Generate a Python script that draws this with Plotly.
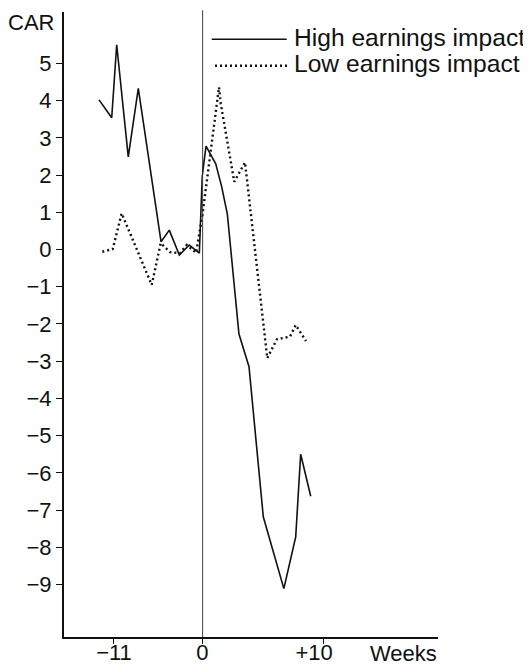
import plotly.graph_objects as go

# ---- data (weeks relative to event, CAR in %) ----
weeks_pre_high = [-12.86, -11.28, -10.66, -9.22, -7.97, -5.14, -4.11, -2.86, -1.62, -0.37, 0.0]
car_pre_high = [4.02, 3.54, 5.50, 2.49, 4.33, 0.21, 0.52, -0.15, 0.12, -0.10, 2.0]
weeks_post_high = [0.0, 0.31, 1.11, 1.60, 2.07, 3.03, 3.86, 5.04, 6.74, 7.72, 8.13, 8.96]
car_post_high = [2.0, 2.78, 2.30, 1.69, 0.95, -2.27, -3.15, -7.18, -9.11, -7.72, -5.50, -6.63]

weeks_pre_low = [-12.45, -11.16, -10.04, -6.30, -5.18, -4.02, -2.78, -1.94, -0.78, -0.29, 0.0]
car_pre_low = [-0.06, 0.01, 0.97, -0.95, 0.17, -0.07, -0.10, 0.12, -0.09, 0.52, 0.9]
weeks_post_low = [0.0, 1.38, 1.52, 2.64, 3.53, 5.37, 5.74, 6.17, 7.25, 7.72, 8.57]
car_post_low = [0.9, 4.36, 3.93, 1.82, 2.34, -2.92, -2.68, -2.41, -2.34, -2.03, -2.46]

series_names = ["High earnings impact", "Low earnings impact"]
y_tickvals = [5, 4, 3, 2, 1, 0, -1, -2, -3, -4, -5, -6, -7, -8, -9]
y_ticktext = ["5", "4", "3", "2", "1", "0", "\u22121", "\u22122", "\u22123", "\u22124",
              "\u22125", "\u22126", "\u22127", "\u22128", "\u22129"]
x_pre_tickvals = [-11]
x_pre_ticktext = ["\u221211"]
x_post_tickvals = [0, 10]
x_post_ticktext = ["0", "+10\u00a0\u00a0\u00a0"]
y_title = "CAR"
x_title = "Weeks"

FONT = "Liberation Sans, Arial, Helvetica, sans-serif"
BLACK = "#111111"

# page is 531x667; the html body has an 8px margin, so the figure is shrunk by it
PAGE_W, PAGE_H, BODY = 531, 667, 8
W, H = PAGE_W - BODY, PAGE_H - BODY
# plot area in page pixels: x 64..438, y 12..637
L, R, T, B = 64 - BODY, PAGE_W - 438, 12 - BODY, PAGE_H - 637
PW, PH = 438 - 64, 637 - 12
split = (202.3 - 64) / PW

def px(xp):
    return (xp - 64) / PW

def py(yp):
    return (637 - yp) / PH

fig = go.Figure()
solid = dict(color=BLACK, width=1.6)
dotted = dict(color=BLACK, width=2.4, dash="2px,3px")
fig.add_trace(go.Scatter(x=weeks_pre_high, y=car_pre_high, mode="lines", line=solid,
                         xaxis="x", yaxis="y", name=series_names[0], showlegend=False))
fig.add_trace(go.Scatter(x=weeks_post_high, y=car_post_high, mode="lines", line=solid,
                         xaxis="x2", yaxis="y", name=series_names[0], showlegend=False))
fig.add_trace(go.Scatter(x=weeks_pre_low, y=car_pre_low, mode="lines", line=dotted,
                         xaxis="x", yaxis="y", name=series_names[1], showlegend=False))
fig.add_trace(go.Scatter(x=weeks_post_low, y=car_post_low, mode="lines", line=dotted,
                         xaxis="x2", yaxis="y", name=series_names[1], showlegend=False))

tickfont = dict(family=FONT, size=22, color=BLACK)
fig.update_layout(
    template="none",
    width=W, height=H,
    margin=dict(l=L, r=R, t=T, b=B, autoexpand=False),
    paper_bgcolor="white", plot_bgcolor="white",
    font=dict(family=FONT, color=BLACK),
    xaxis=dict(domain=[0, split], range=[(64 - 202.3) / 8.03, 0], anchor="y",
               automargin=False, ticklabelstandoff=-10,
               showgrid=False, zeroline=False, showline=True, linewidth=2, linecolor=BLACK,
               ticks="outside", ticklen=5, tickwidth=1.2, tickcolor=BLACK,
               tickvals=x_pre_tickvals, ticktext=x_pre_ticktext, tickfont=tickfont),
    xaxis2=dict(domain=[split, 1], range=[0, (438 - 202.3) / 12.1], anchor="y",
                automargin=False, ticklabelstandoff=-10,
                showgrid=False, zeroline=False, showline=True, linewidth=2, linecolor=BLACK,
                ticks="outside", ticklen=5, tickwidth=1.2, tickcolor=BLACK,
                tickvals=x_post_tickvals, ticktext=x_post_ticktext, tickfont=tickfont),
    yaxis=dict(range=[-10.41, 6.38], anchor="x", automargin=False,
               showgrid=False, zeroline=False,
               showline=True, linewidth=2, linecolor=BLACK,
               ticks="outside", ticklen=6, tickwidth=1.2, tickcolor=BLACK,
               tickvals=y_tickvals, ticktext=y_ticktext, tickfont=tickfont),
    showlegend=False,
)

# event-week vertical line
fig.add_shape(type="line", xref="x2", yref="paper", x0=0, x1=0, y0=0, y1=1.003,
              line=dict(color=BLACK, width=1.6))

# manual legend keys
fig.add_shape(type="line", xref="paper", yref="paper", x0=px(211.7), x1=px(286.7),
              y0=py(39.3), y1=py(39.3), line=solid)
fig.add_shape(type="line", xref="paper", yref="paper", x0=px(215), x1=px(287),
              y0=py(65.7), y1=py(65.7), line=dotted)
fig.add_annotation(text=series_names[0], xref="paper", yref="paper", x=px(292), y=py(37),
                   xanchor="left", yanchor="middle", showarrow=False,
                   font=dict(family=FONT, size=24.6, color=BLACK))
fig.add_annotation(text=series_names[1], xref="paper", yref="paper", x=px(292), y=py(63),
                   xanchor="left", yanchor="middle", showarrow=False,
                   font=dict(family=FONT, size=24.6, color=BLACK))

# axis titles
fig.add_annotation(text=y_title, xref="paper", yref="paper", x=px(56), y=py(23),
                   xanchor="right", yanchor="middle", showarrow=False,
                   font=dict(family=FONT, size=22, color=BLACK))
fig.add_annotation(text=x_title, xref="paper", yref="paper", x=px(439), y=py(653),
                   xanchor="right", yanchor="middle", showarrow=False,
                   font=dict(family=FONT, size=22, color=BLACK))

fig.write_html("out.html")
